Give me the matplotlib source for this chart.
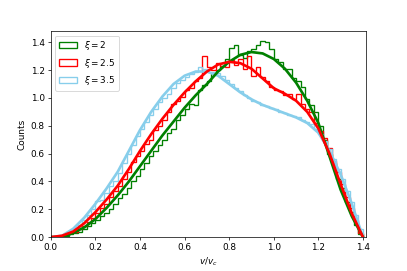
import matplotlib
matplotlib.use("Agg")
import matplotlib.pyplot as plt
import numpy as np

# bin edges of the histograms (v/v_c)
bin_edges = np.linspace(0, 1.4, 71)

# histogram heights, one value per bin
hist_xi2 = [0.00, 0.00, 0.01, 0.01, 0.02, 0.03, 0.04, 0.06, 0.08, 0.10,
            0.12, 0.15, 0.17, 0.20, 0.24, 0.28, 0.31, 0.35, 0.40, 0.44,
            0.49, 0.53, 0.58, 0.62, 0.66, 0.70, 0.75, 0.78, 0.84, 0.88,
            0.92, 0.96, 0.95, 1.06, 1.09, 1.12, 1.17, 1.20, 1.23, 1.28,
            1.36, 1.38, 1.31, 1.29, 1.34, 1.35, 1.38, 1.41, 1.40, 1.35,
            1.28, 1.26, 1.21, 1.21, 1.14, 1.12, 1.08, 0.99, 0.95, 0.90,
            0.80, 0.70, 0.60, 0.53, 0.42, 0.35, 0.25, 0.18, 0.09, 0.02]
hist_xi25 = [0.00, 0.00, 0.01, 0.02, 0.03, 0.04, 0.06, 0.08, 0.11, 0.14,
             0.17, 0.21, 0.24, 0.29, 0.33, 0.37, 0.42, 0.47, 0.54, 0.58,
             0.62, 0.67, 0.70, 0.77, 0.80, 0.84, 0.90, 0.96, 0.98, 1.01,
             1.06, 1.07, 1.12, 1.14, 1.30, 1.22, 1.20, 1.25, 1.23, 1.22,
             1.27, 1.24, 1.28, 1.21, 1.30, 1.16, 1.22, 1.15, 1.12, 1.08,
             1.06, 1.05, 1.02, 1.03, 0.99, 1.03, 0.96, 0.92, 0.90, 0.82,
             0.76, 0.71, 0.64, 0.55, 0.47, 0.38, 0.29, 0.21, 0.12, 0.03]
hist_xi35 = [0.00, 0.01, 0.01, 0.02, 0.04, 0.06, 0.09, 0.12, 0.16, 0.20,
             0.26, 0.27, 0.32, 0.37, 0.40, 0.46, 0.53, 0.60, 0.66, 0.73,
             0.78, 0.83, 0.88, 0.92, 0.97, 1.00, 1.03, 1.07, 1.11, 1.13,
             1.15, 1.17, 1.19, 1.22, 1.21, 1.19, 1.19, 1.18, 1.16, 1.13,
             1.10, 1.07, 1.05, 1.02, 1.00, 0.98, 0.97, 0.95, 0.94, 0.93,
             0.92, 0.90, 0.89, 0.88, 0.87, 0.86, 0.84, 0.83, 0.81, 0.78,
             0.74, 0.69, 0.63, 0.56, 0.49, 0.42, 0.33, 0.25, 0.16, 0.06]

# smooth fitted curves
curve_x = np.linspace(0, 1.4, 29)
curve_xi2 = [0.00, 0.00, 0.03, 0.07, 0.13, 0.21, 0.30, 0.40, 0.51, 0.62,
             0.73, 0.83, 0.93, 1.02, 1.10, 1.19, 1.26, 1.31, 1.33, 1.32,
             1.28, 1.21, 1.11, 0.98, 0.82, 0.58, 0.34, 0.15, 0.00]
curve_xi25 = [0.00, 0.01, 0.04, 0.10, 0.18, 0.27, 0.37, 0.49, 0.62, 0.74,
              0.85, 0.95, 1.04, 1.12, 1.19, 1.24, 1.26, 1.25, 1.21, 1.14,
              1.07, 1.03, 0.98, 0.90, 0.78, 0.60, 0.38, 0.17, 0.00]
curve_xi35 = [0.00, 0.01, 0.06, 0.14, 0.24, 0.35, 0.47, 0.62, 0.77, 0.90,
              1.01, 1.10, 1.16, 1.19, 1.19, 1.16, 1.10, 1.04, 0.99, 0.95,
              0.92, 0.89, 0.86, 0.82, 0.75, 0.62, 0.45, 0.24, 0.00]

fig, ax = plt.subplots(figsize=(407/64, 271/64), dpi=64)
fig.subplots_adjust(bottom=0.125, top=0.885)

centers = 0.5*(bin_edges[1:] + bin_edges[:-1])
ax.hist(centers, bins=bin_edges, weights=hist_xi2, histtype='step', color='green', lw=1.5, label=r'$\xi=2$')
ax.hist(centers, bins=bin_edges, weights=hist_xi25, histtype='step', color='red', lw=1.5, label=r'$\xi=2.5$')
ax.hist(centers, bins=bin_edges, weights=hist_xi35, histtype='step', color='skyblue', lw=1.5, label=r'$\xi=3.5$')

ax.plot(curve_x, curve_xi35, color='skyblue', lw=3)
ax.plot(curve_x, curve_xi2, color='green', lw=3)
ax.plot(curve_x, curve_xi25, color='red', lw=3)

ax.set_xlim(0, 1.415)
ax.set_ylim(0, 1.48)
ax.set_xlabel(r'$v/v_c$')
ax.set_ylabel('Counts')
ax.legend(loc='upper left')

plt.savefig("out.png", dpi=64)
